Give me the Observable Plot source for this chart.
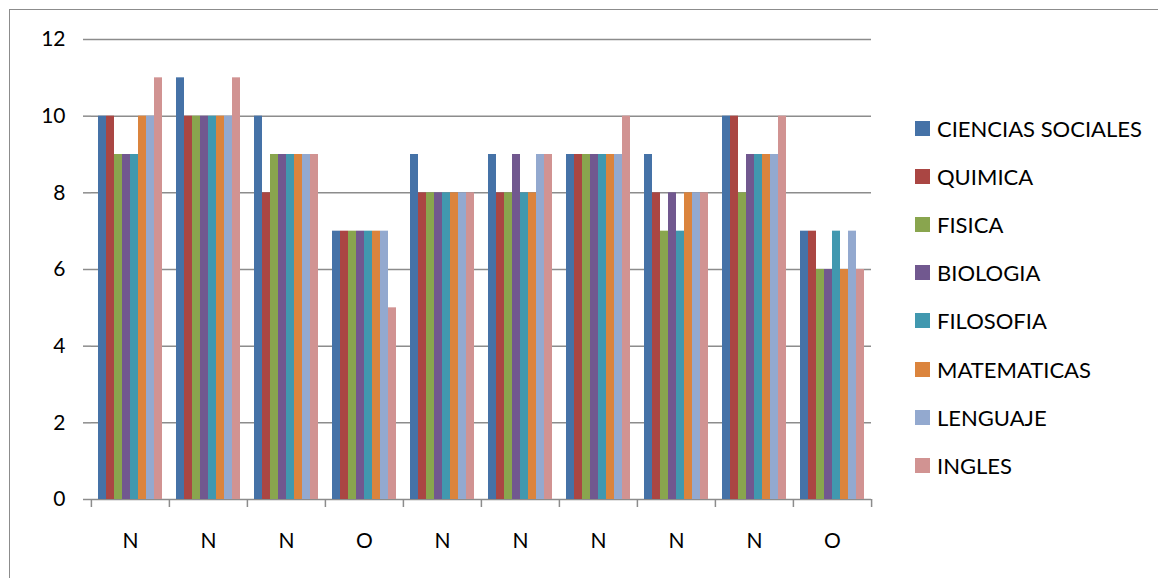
<!DOCTYPE html>
<html>
<head>
<meta charset="utf-8">
<script src="https://cdn.jsdelivr.net/npm/d3@7"></script>
<script src="https://cdn.jsdelivr.net/npm/@observablehq/plot@0.6"></script>
<style>
  html, body { margin: 0; padding: 0; background: #fff; overflow: hidden; }
  #wrap { position: relative; width: 1158px; height: 578px; font-family: Lato, "Open Sans", sans-serif; }
  #border { position: absolute; left: 9px; top: 9px; width: 1200px; height: 620px; border: 1.5px solid #8c8c8c; box-sizing: border-box; }
  #chart { position: absolute; left: 0; top: 0; }
  #legend { position: absolute; left: 915px; top: 104px; }
  .item { height: 48.2px; display: flex; align-items: center; font-size: 22px; color: #000; white-space: nowrap; }
  .sw { width: 15px; height: 15px; margin-right: 7px; flex: none; }
</style>
</head>
<body>
<div id="wrap">
  <div id="border"></div>
  <div id="chart"></div>
  <div id="legend"></div>
</div>
<script>
const groupLabels = ["N", "N", "N", "O", "N", "N", "N", "N", "N", "O"];
const series = ["CIENCIAS SOCIALES", "QUIMICA", "FISICA", "BIOLOGIA", "FILOSOFIA", "MATEMATICAS", "LENGUAJE", "INGLES"];
const colors = ["#4572A7", "#AA4643", "#89A54E", "#71588F", "#4198AF", "#DB843D", "#93A9CF", "#D19392"];
const cienciasSociales = [10, 11, 10, 7, 9, 9, 9, 9, 10, 7];
const quimica          = [10, 10, 8, 7, 8, 8, 9, 8, 10, 7];
const fisica           = [9, 10, 9, 7, 8, 8, 9, 7, 8, 6];
const biologia         = [9, 10, 9, 7, 8, 9, 9, 8, 9, 6];
const filosofia        = [9, 10, 9, 7, 8, 8, 9, 7, 9, 7];
const matematicas      = [10, 10, 9, 7, 8, 8, 9, 8, 9, 6];
const lenguaje         = [10, 10, 9, 7, 8, 9, 9, 8, 9, 7];
const ingles           = [11, 11, 9, 5, 8, 9, 10, 8, 10, 6];
const yTicks = [0, 2, 4, 6, 8, 10, 12];

const seriesValues = [cienciasSociales, quimica, fisica, biologia, filosofia, matematicas, lenguaje, ingles];
const data = [];
groupLabels.forEach((lab, g) => {
  series.forEach((s, j) => data.push({g, s, v: seriesValues[j][g]}));
});

const W = 1158, H = 578, ML = 90, MR = 286, MT = 39, MB = 79;
const step = (W - ML - MR) / groupLabels.length;
const gridColor = "#8c8c8c";
const fontFamily = "Lato, 'Open Sans', sans-serif";

const chart = Plot.plot({
  width: W, height: H,
  marginLeft: ML, marginRight: MR, marginTop: MT, marginBottom: MB,
  style: {fontFamily, background: "transparent", color: "#000"},
  fx: {domain: d3.range(groupLabels.length), padding: 0, axis: null},
  x: {domain: series, paddingInner: 0, paddingOuter: 0.77, axis: null},
  y: {domain: [0, 12], axis: null},
  color: {domain: series, range: colors},
  marks: [
    Plot.gridY(yTicks, {stroke: gridColor, strokeOpacity: 1, strokeWidth: 1.5}),
    Plot.barY(data, {fx: "g", x: "s", y: "v", fill: "s"}),
    Plot.axisY(yTicks, {tickSize: 8, tickPadding: 18, line: true, stroke: gridColor, strokeWidth: 1.5, fill: "#000", fontSize: 21, label: null}),
    Plot.axisFx({anchor: "bottom", tickSize: 0, tickPadding: 34, fontSize: 21, fill: "#000", tickFormat: i => groupLabels[i], label: null}),
    Plot.axisFx({anchor: "bottom", tickSize: 8, stroke: gridColor, strokeWidth: 1.5, tickFormat: () => "", dx: -step / 2, label: null}),
    Plot.axisFx({anchor: "bottom", ticks: [groupLabels.length - 1], tickSize: 8, stroke: gridColor, strokeWidth: 1.5, tickFormat: () => "", dx: step / 2, label: null})
  ]
});
document.getElementById("chart").appendChild(chart);

const legend = document.getElementById("legend");
series.forEach((s, j) => {
  const item = document.createElement("div");
  item.className = "item";
  const sw = document.createElement("span");
  sw.className = "sw";
  sw.style.background = colors[j];
  const t = document.createElement("span");
  t.textContent = s;
  item.appendChild(sw);
  item.appendChild(t);
  legend.appendChild(item);
});
</script>
</body>
</html>
